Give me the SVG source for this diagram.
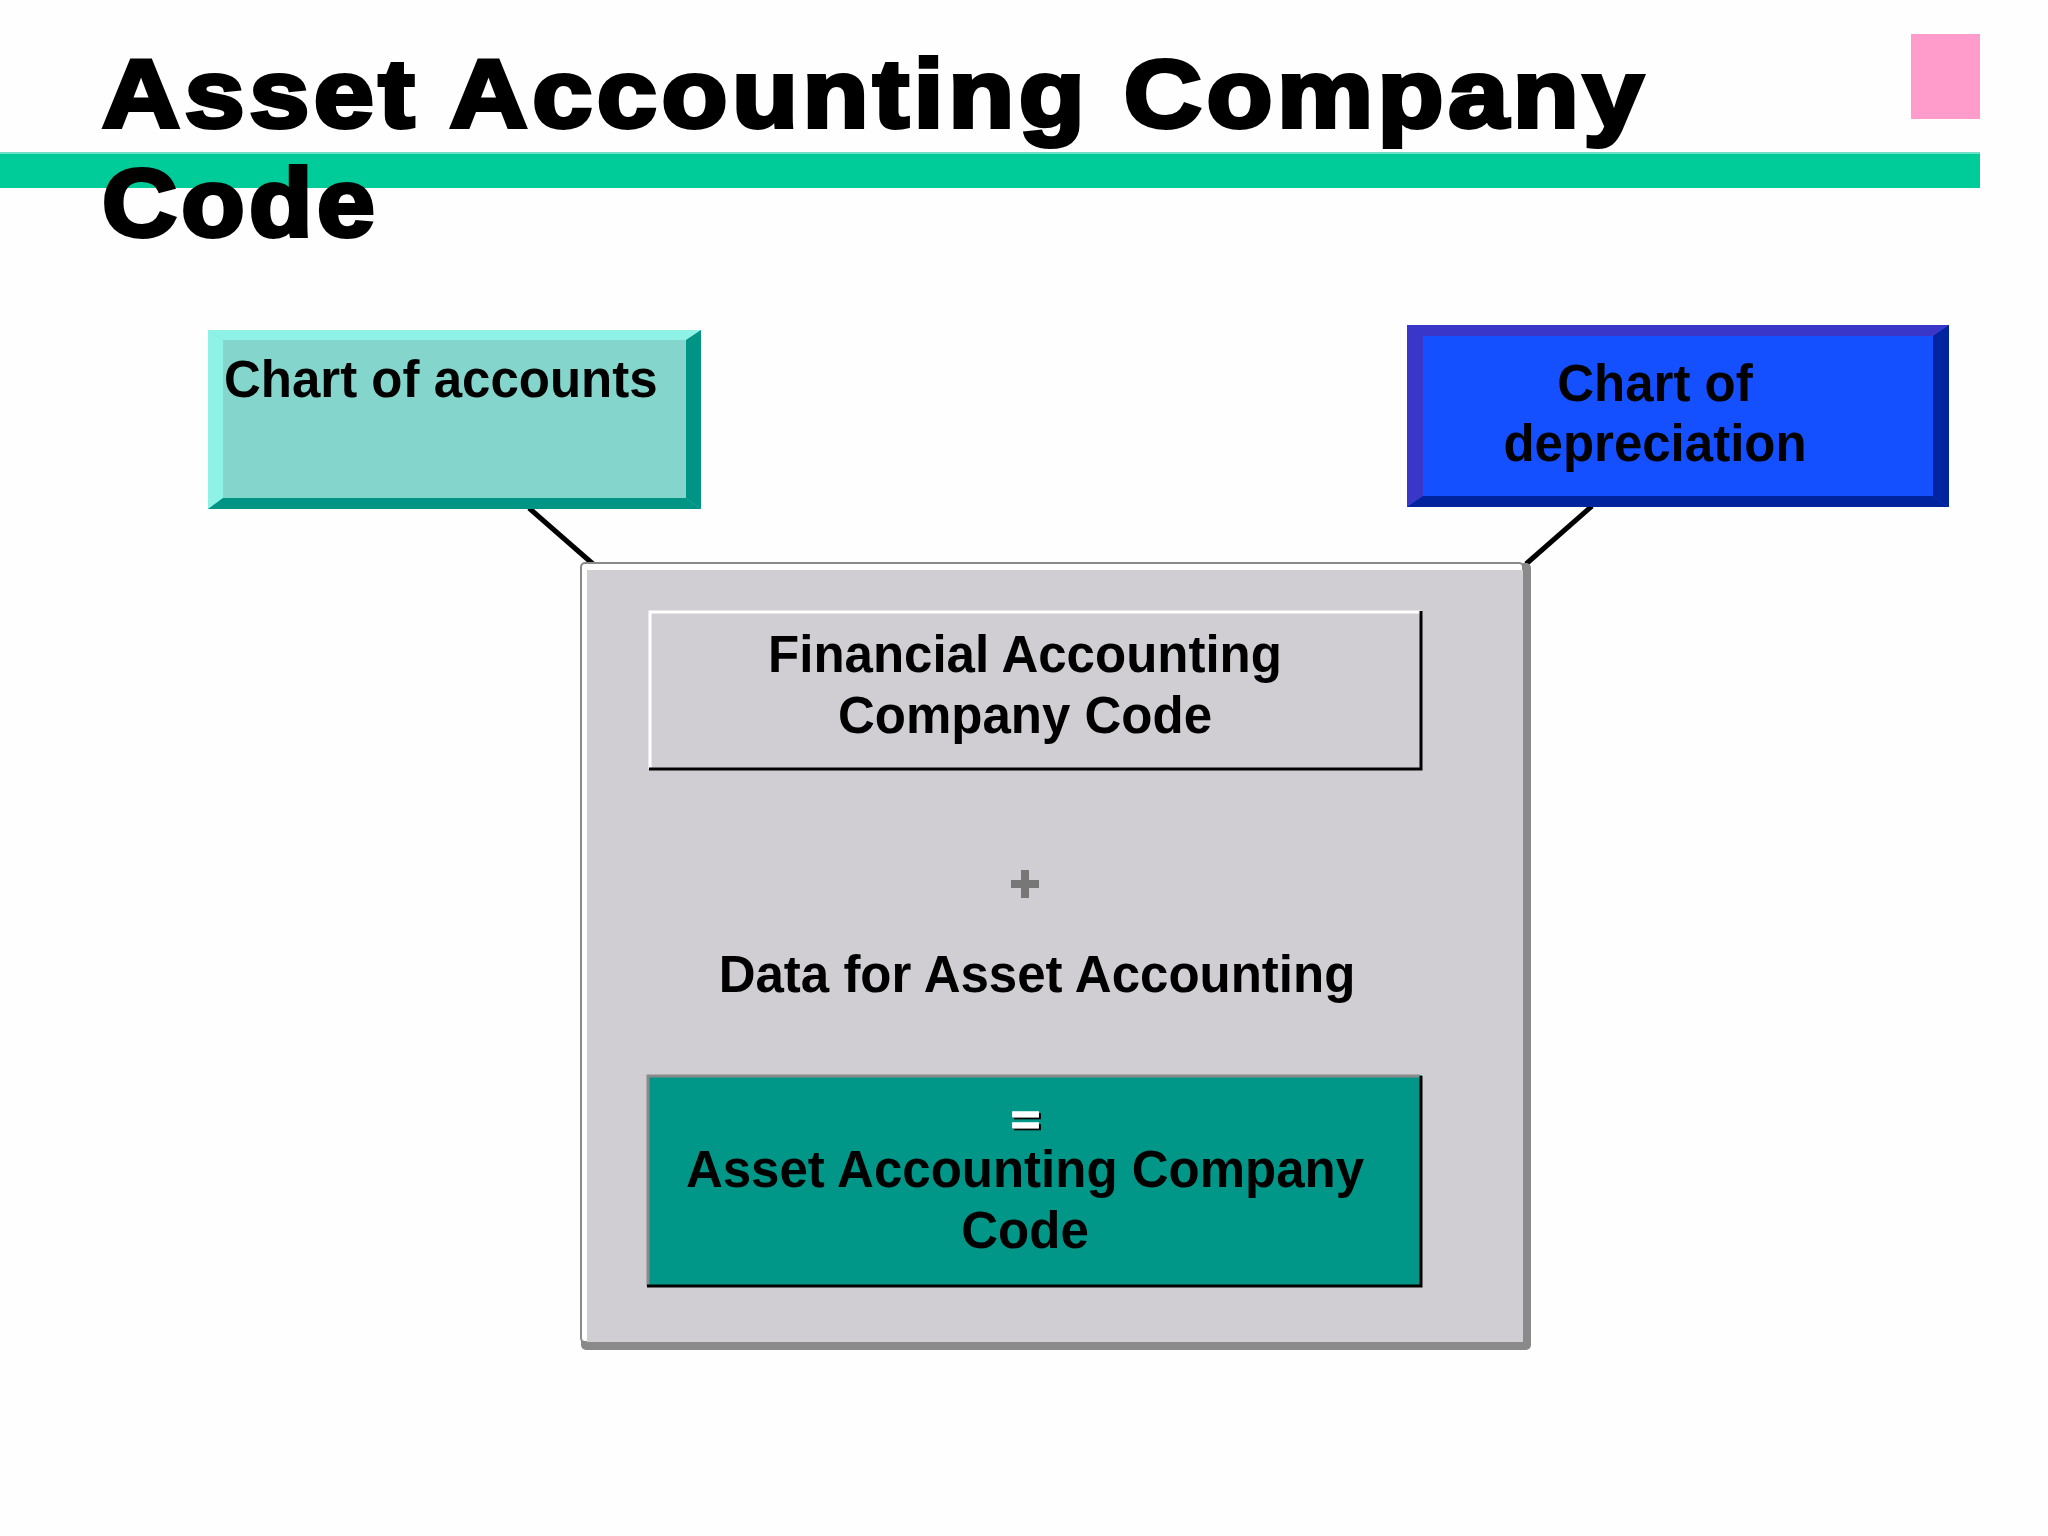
<svg xmlns="http://www.w3.org/2000/svg" width="2048" height="1536" viewBox="0 0 2048 1536">
<style>
.t{font-family:"Liberation Sans",Arial,sans-serif;font-weight:bold;fill:#000}
.lbl{font-size:51px}
.conn{stroke:#000;stroke-width:5;fill:none}
</style>
<defs>
<filter id="sh" x="-50%" y="-50%" width="200%" height="200%">
<feDropShadow dx="2" dy="2" stdDeviation="0" flood-color="#000"/>
</filter>
</defs>
<rect width="2048" height="1536" fill="#fefefe"/>
<g id="title">
<rect x="1911" y="34" width="69" height="85" fill="#ff9ccc"/>
<rect x="0" y="152" width="1980" height="36" fill="#00cc99"/>
<rect x="0" y="152" width="1980" height="2" fill="#6fe0c8"/>
<text class="t" x="102" y="127" font-size="96" stroke="#000" stroke-width="4" letter-spacing="4" textLength="1546" lengthAdjust="spacingAndGlyphs">Asset Accounting Company</text>
<text class="t" x="102" y="236" font-size="96" stroke="#000" stroke-width="4" letter-spacing="4" textLength="277" lengthAdjust="spacingAndGlyphs">Code</text>
</g>
<g id="connectors">
<line class="conn" x1="529" y1="508" x2="593" y2="564"/>
<line class="conn" x1="1592" y1="506" x2="1526" y2="564"/>
</g>
<g id="chart-of-accounts">
<rect x="208" y="330" width="493" height="179" fill="#84d6cc"/>
<polygon points="208,330 701,330 686,340 223,340" fill="#8ff2e6"/>
<polygon points="208,330 223,340 223,498 208,509" fill="#8ff2e6"/>
<polygon points="701,330 701,509 686,498 686,340" fill="#009485"/>
<polygon points="208,509 701,509 686,498 223,498" fill="#009485"/>
<text class="t lbl" x="224" y="397" font-size="50">Chart of accounts</text>
</g>
<g id="chart-of-depreciation">
<rect x="1407" y="325" width="542" height="182" fill="#1450ff"/>
<polygon points="1407,325 1949,325 1933,336 1423,336" fill="#3a36c8"/>
<polygon points="1407,325 1423,336 1423,496 1407,507" fill="#3a36c8"/>
<polygon points="1949,325 1949,507 1933,496 1933,336" fill="#00249e"/>
<polygon points="1407,507 1949,507 1933,496 1423,496" fill="#00249e"/>
<text class="t lbl" text-anchor="middle" x="1655" y="401">Chart of</text>
<text class="t lbl" text-anchor="middle" x="1655" y="461">depreciation</text>
</g>
<g id="asset-company-code-container">
<rect x="581" y="563" width="950" height="787" rx="5" fill="#8a8a8a"/>
<rect x="581" y="563" width="942" height="779" rx="4" fill="#ffffff" stroke="#8a8a8a" stroke-width="2"/>
<rect x="587" y="570" width="936" height="772" fill="#d0ced2"/>
</g>
<g id="financial-accounting-company-code">
<rect x="649" y="611" width="773" height="159" fill="#d0ced2"/>
<polyline points="650,769 650,612 1421,612" fill="none" stroke="#ffffff" stroke-width="3"/>
<polyline points="649,769 1421,769 1421,611" fill="none" stroke="#000" stroke-width="3"/>
<text class="t lbl" text-anchor="middle" x="1025" y="672" font-size="50">Financial Accounting</text>
<text class="t lbl" text-anchor="middle" x="1025" y="733" font-size="50">Company Code</text>
</g>
<g id="plus">
<rect x="1011" y="880" width="28" height="8" fill="#777"/>
<rect x="1021" y="870" width="8" height="28" fill="#777"/>
</g>
<g id="data-for-asset-accounting">
<text class="t lbl" text-anchor="middle" x="1037" y="992">Data for Asset Accounting</text>
</g>
<g id="asset-accounting-company-code">
<rect x="647" y="1075" width="775" height="212" fill="#009688"/>
<polyline points="648,1286 648,1076 1420,1076" fill="none" stroke="#8a8a8a" stroke-width="3"/>
<polyline points="647,1286 1421,1286 1421,1076" fill="none" stroke="#000" stroke-width="3"/>
<text class="t" x="1011" y="1134" font-size="40" textLength="29" lengthAdjust="spacingAndGlyphs" style="fill:#fff" stroke="#fff" stroke-width="1.5" filter="url(#sh)">=</text>
<text class="t lbl" text-anchor="middle" x="1025" y="1187">Asset Accounting Company</text>
<text class="t lbl" text-anchor="middle" x="1025" y="1248">Code</text>
</g>
</svg>
